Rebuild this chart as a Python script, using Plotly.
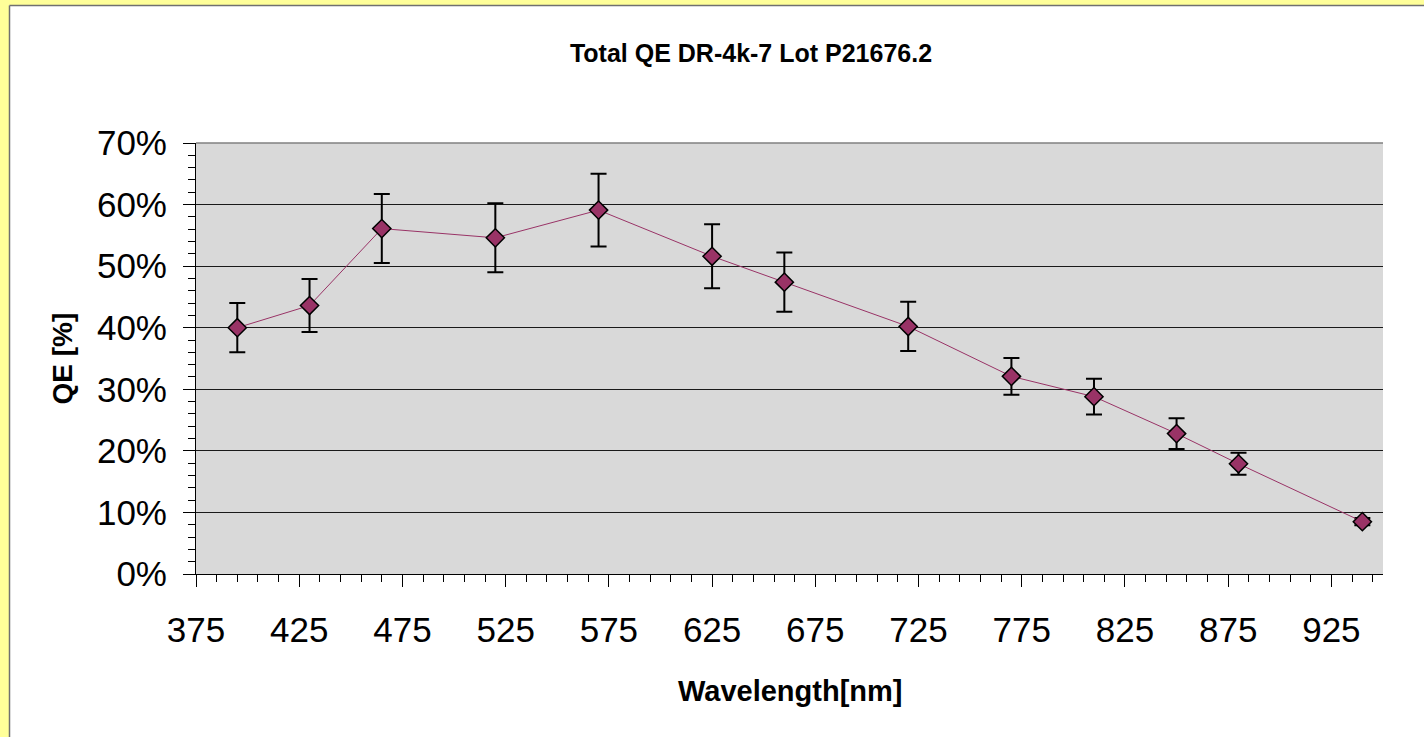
import plotly.graph_objects as go

# Measured total quantum efficiency with uncertainty
wavelength_nm = [395, 430, 465, 520, 570, 625, 660, 720, 770, 810, 850, 880, 940]
qe_pct = [40.0, 43.6, 56.1, 54.6, 59.1, 51.6, 47.4, 40.2, 32.1, 28.8, 22.8, 17.9, 8.5]
qe_err_pct = [4.0, 4.3, 5.6, 5.6, 5.9, 5.2, 4.8, 4.0, 3.0, 2.9, 2.5, 1.8, 0.6]

x_tick_vals = [375, 425, 475, 525, 575, 625, 675, 725, 775, 825, 875, 925]
y_tick_vals = [0, 0.1, 0.2, 0.3, 0.4, 0.5, 0.6, 0.7]

W, H = 1424, 737
L, R, T, B = 196, 41, 143, 163
PW, PH = W - L - R, H - T - B

def px_x(px):
    return (px - L) / PW

def px_y(py):
    return (H - B - py) / PH

FONT = "Liberation Sans, Arial, sans-serif"
MARK = "#993366"

fig = go.Figure()
fig.add_trace(go.Scatter(
    x=wavelength_nm,
    y=[v / 100 for v in qe_pct],
    mode="lines+markers",
    line=dict(color=MARK, width=1),
    marker=dict(symbol="diamond", size=14, color=MARK,
                line=dict(color="black", width=1.5)),
    error_y=dict(type="data", array=[e / 100 for e in qe_err_pct],
                 color="black", thickness=2, width=8),
    showlegend=False,
))

fig.update_layout(
    width=W, height=H,
    margin=dict(l=L, r=R, t=T, b=B, pad=0),
    paper_bgcolor="white",
    plot_bgcolor="#D9D9D9",
    font=dict(family=FONT, color="black"),
    title=dict(text="<b>Total QE DR-4k-7 Lot P21676.2</b>",
               font=dict(size=25, family=FONT, color="black"),
               xref="container", x=751 / W, xanchor="center",
               yref="container", y=1 - 53 / H, yanchor="middle"),
    xaxis=dict(
        range=[375, 950], tickmode="array", tickvals=x_tick_vals,
        showgrid=False, zeroline=False,
        showline=True, linecolor="black", linewidth=1,
        ticks="outside", ticklen=12, tickcolor="black", tickwidth=1,
        tickfont=dict(size=35, family=FONT, color="black"),
        ticklabelstandoff=13,
        minor=dict(tick0=375, dtick=10, ticks="outside", ticklen=7,
                   tickcolor="black", tickwidth=1, showgrid=False),
    ),
    yaxis=dict(
        range=[0, 0.7], tickmode="array", tickvals=y_tick_vals,
        tickformat=".0%",
        showgrid=True, gridcolor="#1a1a1a", gridwidth=1,
        zeroline=False,
        showline=True, linecolor="black", linewidth=1,
        ticks="outside", ticklen=12, tickcolor="black", tickwidth=1,
        tickfont=dict(size=35, family=FONT, color="black"),
        ticklabelstandoff=9,
        minor=dict(dtick=0.02, ticks="outside", ticklen=7,
                   tickcolor="black", tickwidth=1, showgrid=False),
    ),
    annotations=[
        dict(text="<b>Wavelength[nm]</b>", xref="paper", yref="paper",
             x=0.5, y=px_y(691), xanchor="center", yanchor="middle",
             showarrow=False, font=dict(size=29, family=FONT, color="black")),
        dict(text="<b>QE [%]</b>", xref="paper", yref="paper",
             x=px_x(62), y=0.5, xanchor="center", yanchor="middle",
             textangle=-90, showarrow=False,
             font=dict(size=28, family=FONT, color="black")),
    ],
    shapes=[
        # top border of the plot area
        dict(type="line", xref="paper", yref="paper", x0=0, x1=1, y0=1, y1=1,
             line=dict(color="#808080", width=1.5)),
        # yellow frame strips at the top and left of the chart
        dict(type="rect", xref="paper", yref="paper",
             x0=px_x(-5), x1=px_x(W + 5), y0=px_y(5), y1=px_y(-5),
             fillcolor="#FFFF99", line=dict(width=0)),
        dict(type="rect", xref="paper", yref="paper",
             x0=px_x(-5), x1=px_x(9), y0=px_y(H + 5), y1=px_y(-5),
             fillcolor="#FFFF99", line=dict(width=0)),
        dict(type="line", xref="paper", yref="paper",
             x0=px_x(9.5), x1=px_x(W + 5), y0=px_y(5.5), y1=px_y(5.5),
             line=dict(color="#707070", width=1.5)),
        dict(type="line", xref="paper", yref="paper",
             x0=px_x(9.5), x1=px_x(9.5), y0=px_y(5.5), y1=px_y(H + 5),
             line=dict(color="#707070", width=1.5)),
    ],
)

fig.write_html("out.html")
